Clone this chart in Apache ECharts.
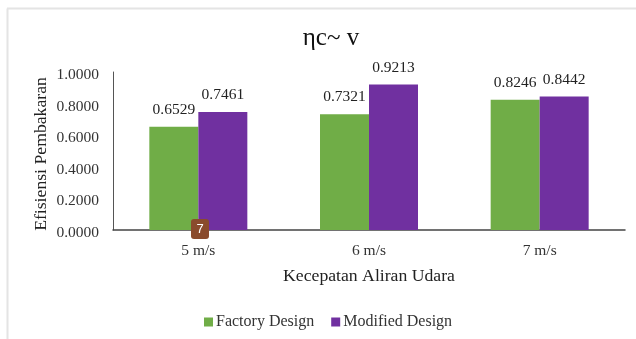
<!DOCTYPE html>
<html>
<head>
<meta charset="utf-8">
<style>
  html, body { margin: 0; padding: 0; background: #fff; }
  #chart { width: 636px; height: 339px; }
</style>
<script src="https://cdn.jsdelivr.net/npm/echarts@6/dist/echarts.min.js"></script>
</head>
<body>
<div id="chart"></div>
<script>
const categories = ['5 m/s', '6 m/s', '7 m/s']
const factoryDesign = [0.6529, 0.7321, 0.8246]
const modifiedDesign = [0.7461, 0.9213, 0.8442]
const serif = '"Liberation Serif", serif'

const chart = echarts.init(document.getElementById('chart'))

function barSeries(name, values, color) {
  return {
    name: name,
    type: 'bar',
    data: values,
    barWidth: 49,
    barGap: 0,
    itemStyle: { color: color },
    label: {
      show: true,
      position: 'top',
      distance: 9,
      fontFamily: serif,
      fontSize: 15.5,
      color: '#222',
      formatter: p => p.value.toFixed(4)
    }
  }
}

chart.setOption({
  animation: false,
  backgroundColor: '#fff',
  title: {
    text: 'ηc~ v',
    left: 326,
    top: 21,
    textAlign: 'center',
    textStyle: { fontFamily: serif, fontSize: 25, fontWeight: 'normal', color: '#111' }
  },
  grid: { left: 113, right: 11, top: 72, bottom: 109 },
  xAxis: {
    type: 'category',
    data: categories,
    name: 'Kecepatan Aliran Udara',
    nameLocation: 'middle',
    nameGap: 37,
    nameTextStyle: { fontFamily: serif, fontSize: 17.7, color: '#222' },
    axisTick: { show: false },
    axisLine: { lineStyle: { color: '#444', width: 1.5 } },
    axisLabel: { fontFamily: serif, fontSize: 15.5, color: '#333', margin: 13 }
  },
  yAxis: {
    type: 'value',
    min: 0,
    max: 1,
    interval: 0.2,
    name: 'Efisiensi Pembakaran',
    nameLocation: 'middle',
    nameGap: 63,
    nameMoveOverlap: false,
    nameTextStyle: { fontFamily: serif, fontSize: 17.7, color: '#222', padding: [0, 6, 0, 0] },
    splitLine: { show: false },
    axisTick: { show: false },
    axisLine: { show: true, lineStyle: { color: '#555', width: 1 } },
    axisLabel: {
      margin: 14,
      formatter: v => '{tick|' + v.toFixed(4) + '}',
      // the tick labels sit a little below their tick in the original
      rich: { tick: { fontFamily: serif, fontSize: 15.5, color: '#333', padding: [6, 0, 0, 0] } }
    }
  },
  legend: {
    data: ['Factory Design', 'Modified Design'],
    left: 199,
    top: 309,
    icon: 'rect',
    itemWidth: 9,
    itemHeight: 9,
    itemGap: 17,
    textStyle: { fontFamily: serif, fontSize: 16, color: '#333', padding: [0, 0, 0, -2] }
  },
  series: [
    barSeries('Factory Design', factoryDesign, '#70AD47'),
    barSeries('Modified Design', modifiedDesign, '#7030A0')
  ],
  graphic: [
    // card edge on the left and top of the screenshot
    { type: 'line', shape: { x1: 7.5, y1: 8.5, x2: 7.5, y2: 339 }, style: { stroke: '#e4e4e4', lineWidth: 2 }, z: 1 },
    { type: 'line', shape: { x1: 7, y1: 8.5, x2: 636, y2: 8.5 }, style: { stroke: '#e4e4e4', lineWidth: 2 }, z: 1 },
    // page number badge sitting on the axis
    { type: 'rect', shape: { x: 191, y: 219, width: 18, height: 20, r: 3 }, style: { fill: '#8A4B2D' }, z: 10 },
    { type: 'text', x: 200, y: 229, style: { text: '7', fill: '#fff', font: '13px "Liberation Sans", sans-serif', align: 'center', verticalAlign: 'middle' }, z: 11 }
  ]
})
</script>
</body>
</html>
